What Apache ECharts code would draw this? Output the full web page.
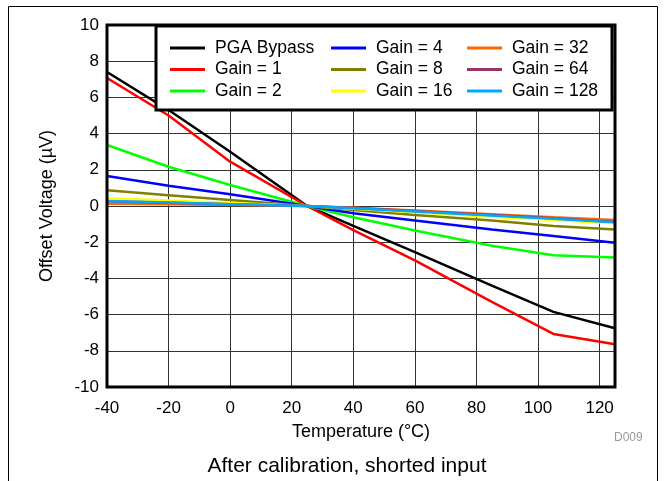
<!DOCTYPE html>
<html>
<head>
<meta charset="utf-8">
<script src="https://cdn.jsdelivr.net/npm/echarts@6/dist/echarts.min.js"></script>
<style>
html,body{margin:0;padding:0;background:#fff;}
#c{width:671px;height:481px;}
</style>
</head>
<body>
<div id="c"></div>
<script>
var temps = [-40, -20, 0, 25, 40, 60, 85, 105, 125];
var seriesNames = ['PGA Bypass', 'Gain = 1', 'Gain = 2', 'Gain = 4', 'Gain = 8', 'Gain = 16', 'Gain = 32', 'Gain = 64', 'Gain = 128'];
var seriesColors = ['#000000', '#ff0000', '#00ff00', '#0000ff', '#808000', '#ffff00', '#ff6600', '#993366', '#00a8ff'];
var pgaBypass = [7.4, 5.3, 3.0, 0, -1.1, -2.55, -4.4, -5.85, -6.75];
var gain1 = [7.07, 5.0, 2.45, 0, -1.33, -3.0, -5.3, -7.07, -7.64];
var gain2 = [3.37, 2.17, 1.16, 0, -0.62, -1.35, -2.2, -2.72, -2.85];
var gain4 = [1.66, 1.12, 0.65, 0, -0.4, -0.8, -1.3, -1.66, -2.03];
var gain8 = [0.87, 0.6, 0.33, 0, -0.22, -0.5, -0.8, -1.1, -1.3];
var gain16 = [0.43, 0.3, 0.17, 0, -0.15, -0.35, -0.6, -0.78, -0.95];
var gain32 = [0.13, 0.09, 0.05, 0, -0.1, -0.25, -0.45, -0.62, -0.78];
var gain64 = [0.26, 0.18, 0.09, 0, -0.11, -0.28, -0.5, -0.68, -0.88];
var gain128 = [0.28, 0.2, 0.1, 0, -0.12, -0.3, -0.52, -0.7, -0.9];
var allValues = [pgaBypass, gain1, gain2, gain4, gain8, gain16, gain32, gain64, gain128];
var xTicks = [-40, -20, 0, 20, 40, 60, 80, 100, 120];

var FONT = 'Liberation Sans, Arial, sans-serif';
var chart = echarts.init(document.getElementById('c'), null, {renderer: 'canvas'});

var series = allValues.map(function (vals, i) {
  return {
    name: seriesNames[i],
    type: 'line',
    data: temps.map(function (t, j) { return [t, vals[j]]; }),
    showSymbol: false,
    symbol: 'none',
    lineStyle: {color: seriesColors[i], width: 2.5},
    itemStyle: {color: seriesColors[i]},
    z: 2 + i * 0.01,
    animation: false
  };
});

function legendCol(names, left) {
  return {
    orient: 'vertical',
    left: left,
    top: 39,
    padding: 0,
    data: names,
    icon: 'rect',
    itemWidth: 35,
    itemHeight: 3,
    itemGap: 3.5,
    selectedMode: false,
    textStyle: {fontFamily: FONT, fontSize: 17.5, color: '#000', padding: [0, 0, 0, 5]},
    z: 10
  };
}

var option = {
  animation: false,
  backgroundColor: '#fff',
  grid: {left: 107, right: 56, top: 25, bottom: 94, show: true, borderColor: '#000', borderWidth: 3, backgroundColor: 'transparent', z: 5},
  xAxis: {
    type: 'value', min: -40, max: 125, interval: 20,
    axisLine: {show: false}, axisTick: {show: false},
    axisLabel: {
      fontFamily: FONT, fontSize: 17, color: '#000', margin: 13,
      formatter: function (v) { return xTicks.indexOf(v) >= 0 ? String(v) : ''; }
    },
    splitLine: {show: true, lineStyle: {color: '#333', width: 1}},
    name: 'Temperature (\u00B0C)', nameLocation: 'middle', nameGap: 36,
    nameTextStyle: {fontFamily: FONT, fontSize: 18, color: '#000'}
  },
  yAxis: {
    type: 'value', min: -10, max: 10, interval: 2,
    axisLine: {show: false}, axisTick: {show: false},
    axisLabel: {fontFamily: FONT, fontSize: 17, color: '#000', margin: 8},
    splitLine: {show: true, lineStyle: {color: '#333', width: 1}},
    name: 'Offset Voltage (\u00B5V)', nameLocation: 'middle', nameGap: 51,
    nameTextStyle: {fontFamily: FONT, fontSize: 18, color: '#000'}
  },
  legend: [
    legendCol(seriesNames.slice(0, 3), 170),
    legendCol(seriesNames.slice(3, 6), 331),
    legendCol(seriesNames.slice(6, 9), 467)
  ],
  graphic: [
    {type: 'rect', shape: {x: 156, y: 26, width: 456, height: 84}, style: {fill: '#fff', stroke: '#000', lineWidth: 3}, z: 8},
    {type: 'line', shape: {x1: 8.5, y1: 6.5, x2: 657.5, y2: 6.5}, style: {stroke: '#000', lineWidth: 1}, z: 1},
    {type: 'line', shape: {x1: 8.5, y1: 6.5, x2: 8.5, y2: 481}, style: {stroke: '#000', lineWidth: 1}, z: 1},
    {type: 'line', shape: {x1: 657.5, y1: 6.5, x2: 657.5, y2: 481}, style: {stroke: '#000', lineWidth: 1}, z: 1},
    {type: 'text', left: 614, top: 432, style: {text: 'D009', fontFamily: FONT, fontSize: 12, fill: '#999'}},
    {type: 'text', x: 347, y: 466, style: {text: 'After calibration, shorted input', fontFamily: FONT, fontSize: 21, fill: '#000', textAlign: 'center', textVerticalAlign: 'middle'}}
  ],
  series: series
};
chart.setOption(option);
</script>
</body>
</html>
